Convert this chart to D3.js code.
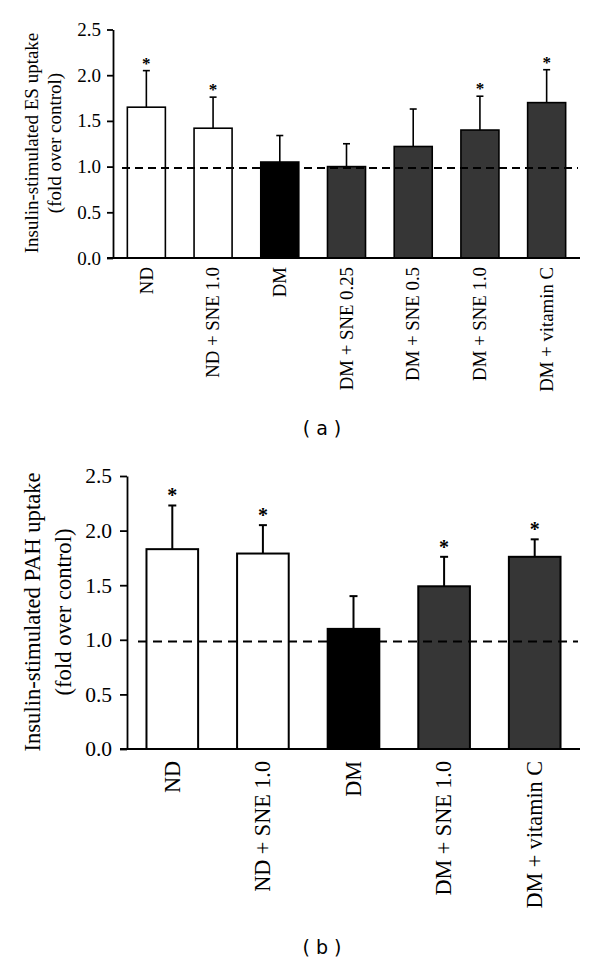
<!DOCTYPE html>
<html><head><meta charset="utf-8">
<script src="https://cdn.jsdelivr.net/npm/d3@7"></script>
<style>body{margin:0;background:#fff}svg{display:block}</style>
</head><body>
<svg id="c" width="600" height="962"></svg>
<script>
// Panel (a)
const catsA = ["ND","ND + SNE 1.0","DM","DM + SNE 0.25","DM + SNE 0.5","DM + SNE 1.0","DM + vitamin C"];
const valsA = [1.65,1.42,1.05,1.00,1.22,1.40,1.70];
const errA  = [0.40,0.34,0.29,0.25,0.41,0.37,0.36];
const sigA  = [true,true,false,false,false,true,true];
const groupA = ["ND","ND","DM","TR","TR","TR","TR"];
// Panel (b)
const catsB = ["ND","ND + SNE 1.0","DM","DM + SNE 1.0","DM + vitamin C"];
const valsB = [1.83,1.79,1.10,1.49,1.76];
const errB  = [0.40,0.26,0.30,0.27,0.16];
const sigB  = [true,true,false,true,true];
const groupB = ["ND","ND","DM","TR","TR"];
const yTicks = [0,0.5,1.0,1.5,2.0,2.5];
const refLine = 0.985;

const fill = {ND:"#ffffff", DM:"#000000", TR:"#363636"};
const svg = d3.select("#c");
const serif = "'Liberation Serif','Times New Roman',serif";

function panel(o){
  const g = svg.append("g");
  const x = d3.scaleBand().domain(o.cats).range([o.x0,o.x1]).paddingInner(0.43).paddingOuter(0.215);
  const y = d3.scaleLinear().domain([0,2.5]).range([o.y0,o.y1]);
  // error bars
  const eg = g.append("g");
  o.cats.forEach((c,i)=>{
    const cx = x(c)+x.bandwidth()/2;
    eg.append("line").attr("x1",cx).attr("x2",cx).attr("y1",y(o.vals[i])).attr("y2",y(o.vals[i]+o.err[i]))
      .attr("stroke","#000").attr("stroke-width",o.sw);
    eg.append("line").attr("x1",cx-o.cap).attr("x2",cx+o.cap).attr("y1",y(o.vals[i]+o.err[i])).attr("y2",y(o.vals[i]+o.err[i]))
      .attr("stroke","#000").attr("stroke-width",o.sw);
    if(o.sig[i]) eg.append("text").attr("x",cx).attr("y",y(o.vals[i]+o.err[i])-o.starOff)
      .attr("text-anchor","middle").attr("font-family",serif).attr("font-size",o.starFs).attr("font-weight","bold").text("*");
  });
  // bars
  g.append("g").selectAll("rect").data(o.cats).join("rect")
    .attr("x",c=>x(c)).attr("width",x.bandwidth())
    .attr("y",(c,i)=>y(o.vals[i])).attr("height",(c,i)=>y(0)-y(o.vals[i]))
    .attr("fill",(c,i)=>fill[o.group[i]]).attr("stroke","#000").attr("stroke-width",o.sw);
  // dashed reference line over bars
  g.append("line").attr("x1",o.dashX0).attr("x2",o.x1-2)
    .attr("y1",y(refLine)).attr("y2",y(refLine))
    .attr("stroke","#000").attr("stroke-width",2).attr("stroke-dasharray",o.dash);
  // y axis
  const ya = g.append("g").attr("transform",`translate(${o.x0},0)`)
    .call(d3.axisLeft(y).tickValues(yTicks).tickFormat(d3.format(".1f")).tickSize(o.tick).tickSizeOuter(0));
  ya.select(".domain").attr("stroke-width",1.8);
  ya.selectAll(".tick line").attr("stroke-width",1.8);
  ya.selectAll("text").attr("font-family",serif).attr("font-size",o.tickFs).attr("fill","#000").attr("dx",o.tdx);
  // x axis
  g.append("line").attr("x1",o.x0-o.tick).attr("x2",o.x1).attr("y1",y(0)).attr("y2",y(0)).attr("stroke","#000").attr("stroke-width",1.8);
  // x labels
  o.cats.forEach(c=>{
    const cx = x(c)+x.bandwidth()/2;
    g.append("text").attr("transform",`translate(${cx+o.xlFs*0.33},${y(0)+o.xlOff}) rotate(-90)`)
      .attr("text-anchor","end").attr("font-family",serif).attr("font-size",o.xlFs).text(c);
  });
  // y title
  const yc = o.titleY;
  g.append("text").attr("transform",`translate(${o.t1x},${yc}) rotate(-90)`).attr("text-anchor","middle")
    .attr("font-family",serif).attr("font-size",o.titleFs).text(o.title1);
  g.append("text").attr("transform",`translate(${o.t2x},${yc}) rotate(-90)`).attr("text-anchor","middle")
    .attr("font-family",serif).attr("font-size",o.titleFs).text("(fold over control)");
  // caption
  g.append("text").attr("x",322).attr("y",o.capY).attr("text-anchor","middle")
    .attr("font-family","'DejaVu Sans',Verdana,sans-serif").attr("font-size",19).attr("xml:space","preserve").text(o.caption);
}

panel({cats:catsA,vals:valsA,err:errA,sig:sigA,group:groupA,x0:113,x1:580,y0:258,y1:29.5,
  dashX0:122,dash:"8,5",sw:1.6,cap:3.5,starOff:2,starFs:17,tickFs:19,tick:6,tdx:-3,xlFs:18.8,xlOff:9,titleFs:19,
  t1x:38,t2x:61,titleY:143,title1:"Insulin-stimulated ES uptake",capY:435,caption:"( a )"});
panel({cats:catsB,vals:valsB,err:errB,sig:sigB,group:groupB,x0:127,x1:580,y0:749,y1:476,
  dashX0:138,dash:"9,6",sw:2,cap:4,starOff:3,starFs:20,tickFs:21.5,tick:7,tdx:-5,xlFs:22.2,xlOff:12,titleFs:22.6,
  t1x:40,t2x:71,titleY:612,title1:"Insulin-stimulated PAH uptake",capY:954,caption:"( b )"});
</script>
</body></html>
